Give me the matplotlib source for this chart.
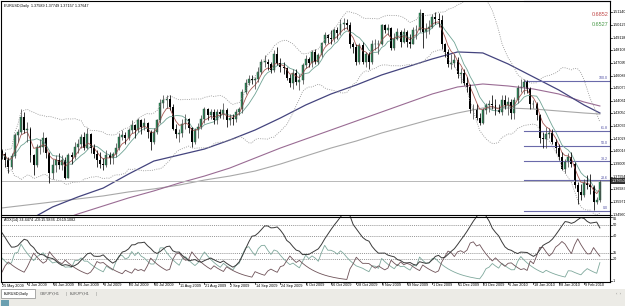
import numpy as np
import pandas as pd
import matplotlib
matplotlib.use('Agg')
import matplotlib.pyplot as plt
from matplotlib.patches import Rectangle
from matplotlib.transforms import blended_transform_factory

plt.rcParams['font.family'] = ['Liberation Sans', 'DejaVu Sans']

# EURUSD daily bars, 25 May 2009 .. 16 Feb 2010, prices in 1/10000
first_open = 14005
close = [13985, 13930, 13875, 13965, 14135, 14160, 14280, 14175, 14180, 13970,
         13890, 14040, 14040, 14110, 13990, 13830, 13890, 13930, 13890, 13930,
         13790, 13970, 13960, 14040, 14060, 14120, 14030, 14140, 14030, 13980,
         13930, 13900, 13890, 13970, 13950, 13980, 14030, 14120, 14130, 14110,
         14170, 14210, 14170, 14250, 14200, 14230, 14160, 14080, 14160, 14250,
         14390, 14410, 14420, 14360, 14180, 14140, 14150, 14220, 14260, 14190,
         14080, 14170, 14200, 14260, 14340, 14290, 14320, 14250, 14320, 14300,
         14330, 14250, 14270, 14260, 14320, 14340, 14480, 14550, 14580, 14570,
         14580, 14640, 14720, 14720, 14700, 14650, 14780, 14710, 14680, 14670,
         14590, 14550, 14630, 14560, 14570, 14690, 14740, 14710, 14800, 14720,
         14770, 14870, 14930, 14910, 14900, 14970, 14950, 15020, 15030, 15010,
         14860, 14840, 14720, 14850, 14720, 14780, 14720, 14860, 14860, 14860,
         15010, 14970, 14990, 14830, 14900, 14960, 14880, 14960, 14880, 14860,
         14970, 14970, 15110, 14960, 14980, 15000, 15080, 15060, 15050, 14860,
         14800, 14700, 14710, 14730, 14620, 14630, 14550, 14520, 14340, 14340,
         14270, 14230, 14330, 14370, 14380, 14370, 14330, 14320, 14410, 14370,
         14400, 14310, 14410, 14510, 14520, 14560, 14500, 14380, 14380, 14290,
         14110, 14100, 14140, 14150, 14080, 14030, 13960, 13860, 13920, 13960,
         13900, 13730, 13680, 13650, 13750, 13730, 13720, 13600, 13610, 13765]
high = [14020, 14000, 13960, 13990, 14150, 14180, 14340, 14320, 14240, 14200,
        13980, 14060, 14100, 14160, 14120, 14000, 13940, 13970, 13990, 13970,
        13960, 13990, 14000, 14080, 14100, 14140, 14160, 14190, 14150, 14060,
        14010, 14000, 13950, 14010, 14000, 14000, 14070, 14150, 14170, 14160,
        14190, 14250, 14220, 14270, 14260, 14270, 14240, 14170, 14190, 14260,
        14420, 14450, 14450, 14450, 14380, 14220, 14180, 14260, 14300, 14270,
        14200, 14190, 14230, 14290, 14360, 14350, 14340, 14340, 14340, 14340,
        14390, 14350, 14300, 14300, 14340, 14360, 14500, 14580, 14610, 14610,
        14600, 14680, 14740, 14770, 14740, 14720, 14810, 14840, 14750, 14720,
        14680, 14620, 14660, 14660, 14620, 14710, 14770, 14760, 14810, 14820,
        14790, 14880, 14960, 14940, 14970, 14990, 15000, 15060, 15070, 15060,
        15040, 14880, 14860, 14870, 14880, 14800, 14800, 14890, 14900, 14890,
        15020, 15020, 15020, 15000, 14950, 14990, 14970, 14990, 14970, 14940,
        15000, 15010, 15140, 15110, 15030, 15050, 15100, 15120, 15110, 15090,
        14870, 14820, 14780, 14780, 14760, 14670, 14660, 14600, 14540, 14380,
        14380, 14310, 14350, 14390, 14410, 14450, 14420, 14380, 14450, 14450,
        14440, 14420, 14440, 14530, 14580, 14580, 14570, 14520, 14410, 14400,
        14300, 14160, 14200, 14190, 14180, 14100, 14060, 14000, 13940, 13990,
        14000, 13920, 13760, 13740, 13780, 13810, 13820, 13730, 13640, 13775]
low = [13940, 13880, 13830, 13860, 13950, 14080, 14140, 14150, 14080, 13920,
       13810, 13880, 13980, 14000, 13950, 13750, 13780, 13840, 13860, 13850,
       13780, 13790, 13900, 13940, 13990, 14030, 14010, 14020, 13990, 13950,
       13880, 13870, 13850, 13880, 13900, 13900, 13960, 14010, 14090, 14060,
       14090, 14150, 14110, 14160, 14140, 14170, 14110, 14010, 14060, 14140,
       14230, 14350, 14350, 14330, 14170, 14110, 14080, 14120, 14180, 14150,
       14040, 14060, 14110, 14180, 14230, 14250, 14260, 14220, 14220, 14270,
       14260, 14200, 14210, 14210, 14240, 14290, 14310, 14460, 14530, 14540,
       14500, 14560, 14620, 14680, 14650, 14630, 14640, 14690, 14640, 14620,
       14570, 14520, 14500, 14530, 14490, 14540, 14670, 14680, 14680, 14700,
       14700, 14760, 14850, 14870, 14860, 14880, 14900, 14930, 14970, 14980,
       14830, 14790, 14690, 14700, 14700, 14680, 14660, 14700, 14810, 14780,
       14850, 14950, 14930, 14810, 14810, 14890, 14840, 14870, 14840, 14830,
       14860, 14900, 14960, 14830, 14910, 14940, 14990, 15020, 15000, 14820,
       14760, 14680, 14660, 14680, 14590, 14550, 14530, 14480, 14310, 14260,
       14250, 14210, 14220, 14300, 14320, 14340, 14290, 14310, 14290, 14340,
       14290, 14260, 14260, 14390, 14480, 14460, 14470, 14340, 14350, 14250,
       14070, 14030, 14030, 14110, 14060, 13990, 13930, 13850, 13830, 13880,
       13880, 13710, 13580, 13610, 13640, 13700, 13660, 13530, 13580, 13600]

date_labels = ['25 May 2009', '4 Jun 2009', '16 Jun 2009', '26 Jun 2009', '8 Jul 2009',
               '20 Jul 2009', '30 Jul 2009', '11 Aug 2009', '21 Aug 2009', '2 Sep 2009',
               '14 Sep 2009', '24 Sep 2009', '6 Oct 2009', '16 Oct 2009', '28 Oct 2009',
               '9 Nov 2009', '19 Nov 2009', '1 Dec 2009', '11 Dec 2009', '23 Dec 2009',
               '6 Jan 2010', '18 Jan 2010', '28 Jan 2010', '9 Feb 2010']

# slow moving averages (every 8th bar + last bar)
ma_bars = [0, 8, 16, 24, 32, 40, 48, 56, 64, 72, 80, 88, 96, 104, 112, 120,
           128, 136, 144, 152, 160, 168, 176, 184, 189]
ma50 = [1.3358, 1.3446, 1.3558, 1.3638, 1.3709, 1.3821, 1.3925, 1.3973, 1.4021,
        1.4093, 1.4173, 1.4269, 1.4373, 1.4461, 1.4533, 1.4613, 1.4677, 1.4741,
        1.4797, 1.4789, 1.4701, 1.4597, 1.4493, 1.4373, 1.4309]
ma100 = [1.3310, 1.3374, 1.3430, 1.3502, 1.3566, 1.3630, 1.3686, 1.3749, 1.3805,
         1.3869, 1.3949, 1.4029, 1.4101, 1.4173, 1.4245, 1.4317, 1.4389, 1.4461,
         1.4517, 1.4541, 1.4525, 1.4501, 1.4461, 1.4397, 1.4365]
ma200 = [1.3550, 1.3574, 1.3598, 1.3622, 1.3646, 1.3678, 1.3702, 1.3733, 1.3773,
         1.3805, 1.3845, 1.3901, 1.3965, 1.4029, 1.4085, 1.4149, 1.4205, 1.4261,
         1.4309, 1.4349, 1.4349, 1.4341, 1.4325, 1.4309, 1.4301]

# ADX / +DI / -DI levels at the left edge of the chart
adx_start, pdi_start, mdi_start = 43.0, 24.0, 10.0

price_ticks = [1.34960, 1.35971, 1.36983, 1.37994, 1.39005, 1.40016, 1.41028, 1.42039,
               1.43050, 1.44061, 1.45073, 1.46084, 1.47095, 1.48106, 1.49118, 1.50129, 1.51140]

fib_bar = 165
fib_high = 1.4565
fib_low = 1.3526
fib_levels = [161.8, 100.0, 61.8, 50.0, 38.2, 23.6, 0.0]

adx_levels = [50, 40, 25, 20]
adx_ticks = [56.5, 50, 40, 25, 20, 1]
adx_tick_labels = ['56', '50', '40', '25', '20', '1']

title = 'EURUSD,Daily  1.37589 1.37749 1.37157 1.37647'
adx_title = 'ADX(14) 34.4474 +DI:15.9836 -DI:19.1082'
tabs = ['EURUSD,Daily', 'GBPJPY,H1', 'EURJPY,H1']

# ---------------------------------------------------------------
c = np.array(close) / 1e4
h = np.array(high) / 1e4
l = np.array(low) / 1e4
o = np.array([first_open] + close[:-1]) / 1e4
n = len(c)
idx = np.arange(n)
s = pd.Series(c)

ema5 = s.ewm(span=5, adjust=False).mean()
sma8 = s.rolling(8, min_periods=1).mean()
mid = s.rolling(20, min_periods=2).mean()
sd = s.rolling(20, min_periods=2).std(ddof=0)
bb_up = mid + 2 * sd
bb_dn = mid - 2 * sd


def ema(vals, span, seed):
    a = 2.0 / (span + 1)
    out, prev = [], seed
    for v in vals:
        prev = prev + a * (v - prev)
        out.append(prev)
    return np.array(out)


# ADX(14), terminal style: EMA of per-bar directional ratios
hs, ls_ = pd.Series(h), pd.Series(l)
pc = s.shift(1).fillna(o[0])
tr = pd.concat([hs - ls_, (hs - pc).abs(), (ls_ - pc).abs()], axis=1).max(axis=1).values
upm = (hs - hs.shift(1)).fillna(0).clip(lower=0).values
dnm = (ls_.shift(1) - ls_).fillna(0).clip(lower=0).values
pdm = np.where(upm > dnm, upm, 0.0)
mdm = np.where(dnm > upm, dnm, 0.0)
pdi = ema(100 * pdm / tr, 14, pdi_start)
mdi = ema(100 * mdm / tr, 14, mdi_start)
dx = 100 * np.abs(pdi - mdi) / (pdi + mdi)
adx = ema(dx, 14, adx_start)

W, H = 625, 306
fig = plt.figure(figsize=(W / 100, H / 100), dpi=100)
fig.patch.set_facecolor('white')


def box(x0, y0, x1, y1):
    return [x0 / W, 1 - y1 / H, (x1 - x0) / W, (y1 - y0) / H]


def fx(x):
    return x / W


def fy(y):
    return 1 - y / H


xl = (-0.32, 192.2)
ax = fig.add_axes(box(1, 1, 610, 215))
ax2 = fig.add_axes(box(1, 216.5, 610, 282))
for a in (ax, ax2):
    a.set_xlim(*xl)
    a.set_xticks([])
    a.set_yticks([])
    for sp in a.spines.values():
        sp.set_linewidth(0.8)
        sp.set_color('black')
ax.set_ylim(1.34936, 1.52043)
ax2.set_ylim(0, 56.96)

# slow averages
ax.plot(ma_bars, ma200, color='#a8a8a8', lw=0.8)
ax.plot(ma_bars, ma100, color='#9a6c94', lw=0.8)
ax.plot(ma_bars, ma50, color='#44447e', lw=0.9)

# bollinger
ax.plot(idx, bb_up, color='#9a9a9a', lw=0.6, ls=(0, (1.2, 1.5)))
ax.plot(idx, bb_dn, color='#9a9a9a', lw=0.6, ls=(0, (1.2, 1.5)))

# current price line
ax.axhline(c[-1], color='#b8b8b8', lw=0.7)

# fibonacci
span = fib_high - fib_low
for lev in fib_levels:
    p = fib_low + span * lev / 100
    ax.plot([fib_bar, xl[1]], [p, p], color='#6a6aaa', lw=0.8, clip_on=False)
    if lev <= 100:
        ax.text(191.6, p + 0.0006, '%.1f' % lev, color='#4a4aa0', fontsize=2.6,
                ha='right', va='bottom')

# fast averages
ax.plot(idx, sma8, color='#6fa394', lw=0.6)
ax.plot(idx, ema5, color='#a85a55', lw=0.6)

# candles
up = c >= o
ax.vlines(idx[up], l[up], h[up], color='#4a4a4a', lw=0.55)
ax.vlines(idx[~up], l[~up], h[~up], color='black', lw=0.55)
ax.bar(idx[up], np.maximum(c[up] - o[up], 0.0002), bottom=o[up], width=0.62,
       color='#2f8a5a', edgecolor='#1b5a3a', linewidth=0.3)
ax.bar(idx[~up], np.maximum(o[~up] - c[~up], 0.0002), bottom=c[~up], width=0.62,
       color='black', linewidth=0)

fig.text(fx(4), fy(5.5), title, fontsize=2.7, va='center', ha='left')
fig.text(fx(609), fy(14.5), '0.6852', fontsize=4, color='#c04848', ha='right', va='center')
fig.text(fx(609), fy(24.5), '0.6527', fontsize=4, color='#4a9a4a', ha='right', va='center')

# price scale
tr_main = blended_transform_factory(fig.transFigure, ax.transData)
tick_main = blended_transform_factory(ax.transAxes, ax.transData)
for p in price_ticks:
    ax.plot([1.0, 1.0033], [p, p], transform=tick_main, color='black', lw=0.5, clip_on=False)
    fig.text(fx(612.5), p, '%.5f' % p, fontsize=2.7, va='center', ha='left', transform=tr_main)
fig.text(fx(612), c[-1], '%.5f' % c[-1], fontsize=2.7, va='center', ha='left', color='white',
         transform=tr_main, bbox=dict(boxstyle='square,pad=0.15', fc='#303030', ec='none'))

# ADX panel
for lev in adx_levels:
    ax2.axhline(lev, color='#707070', lw=0.5, ls=(0, (1.5, 1.5)))
ax2.plot(idx, pdi, color='#7fa89c', lw=0.6)
ax2.plot(idx, mdi, color='#6e5258', lw=0.6)
ax2.plot(idx, adx, color='#3a3a3a', lw=0.7)
fig.text(fx(4), fy(220.5), adx_title, fontsize=2.7, va='center', ha='left')
tr_adx = blended_transform_factory(fig.transFigure, ax2.transData)
tick_adx = blended_transform_factory(ax2.transAxes, ax2.transData)
for v, t in zip(adx_ticks, adx_tick_labels):
    ax2.plot([1.0, 1.0033], [v, v], transform=tick_adx, color='black', lw=0.5, clip_on=False)
    fig.text(fx(612.5), v, t, fontsize=2.7, ha='left', transform=tr_adx,
             va='top' if v > 55 else 'center')

# time scale
tr_time = blended_transform_factory(ax2.transData, fig.transFigure)
for k, lab in enumerate(date_labels):
    ax2.plot([8 * k, 8 * k], [fy(282), fy(284)], transform=tr_time, color='black',
             lw=0.5, clip_on=False)
    ax2.text(8 * k + 0.15, fy(285.5), lab, fontsize=2.7, va='center', ha='left',
             transform=tr_time, clip_on=False)

# tab strip
fig.patches.append(Rectangle((0, 0), 1, fy(289), transform=fig.transFigure,
                             fc='#ecebe6', ec='none', zorder=-1))
fig.patches.append(Rectangle((fx(1), fy(298)), fx(34), fy(289) - fy(298),
                             transform=fig.transFigure, fc='white', ec='#8a8a8a', lw=0.5))
fig.text(fx(4), fy(293.5), tabs[0], fontsize=2.7, va='center', ha='left')
fig.text(fx(40), fy(293.5), tabs[1], fontsize=2.7, va='center', ha='left', color='#555555')
fig.text(fx(66), fy(293.5), '|', fontsize=2.7, va='center', ha='left', color='#777777')
fig.text(fx(70), fy(293.5), tabs[2], fontsize=2.7, va='center', ha='left', color='#555555')
fig.text(fx(96), fy(293.5), '|', fontsize=2.7, va='center', ha='left', color='#777777')
fig.text(fx(616), fy(294), '‹  ›', fontsize=3, va='center', ha='left', color='#777777')
fig.patches.append(Rectangle((fx(1), fy(306)), fx(8), fy(300) - fy(306),
                             transform=fig.transFigure, fc='#6a9fb0', ec='none'))

fig.savefig('out.png', dpi=100)
